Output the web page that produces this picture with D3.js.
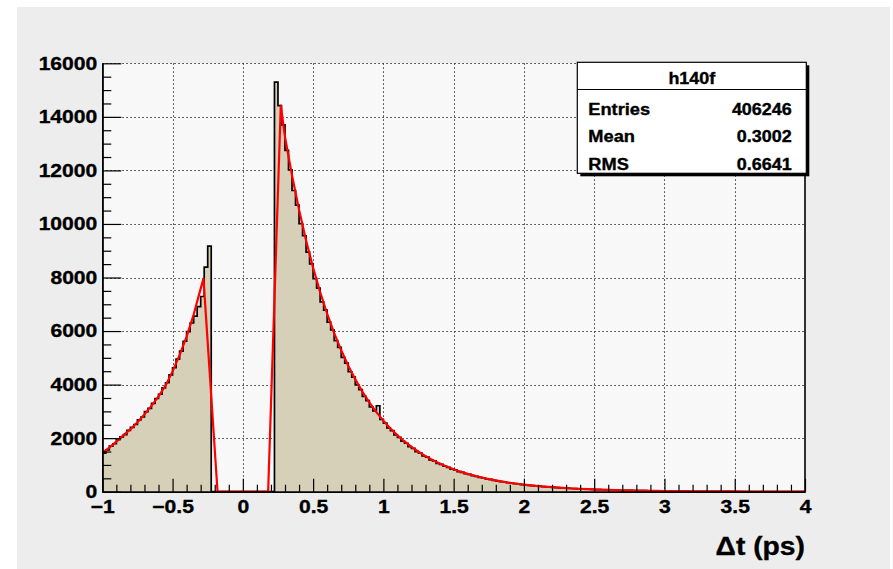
<!DOCTYPE html>
<html>
<head>
<meta charset="utf-8">
<script src="https://cdn.jsdelivr.net/npm/d3@7"></script>
<style>
  html, body { margin: 0; padding: 0; background: #ffffff; }
  svg { display: block; }
  text { font-family: "Liberation Sans", Arial, Helvetica, sans-serif; font-weight: bold; fill: #000; stroke: #000; stroke-width: 0.35px; }
</style>
</head>
<body>
<svg id="chart" width="893" height="569"></svg>
<script>
// Histogram h140f : Δt in ps, 200 bins from -1 to 4
const histName = "h140f";
const xMin = -1, xMax = 4, nBins = 200;

// bin contents, left lobe (-1 .. -0.225)
const countsLeft = [
  1440, 1560, 1700, 1790, 1940, 2050, 2130, 2290, 2400, 2510,
  2680, 2790, 2990, 3110, 3300, 3480, 3640, 3880, 4070, 4360,
  4630, 4950, 5250, 5620, 5980, 6300, 6560, 6910, 7290, 8390,
  9170
];
// empty gap (-0.225 .. 0.225)
const countsGap = [0, 0, 0, 0, 0, 0, 0, 0, 0, 0, 0, 0, 0, 0, 0, 0, 0, 0];
// right lobe (0.225 .. 4)
const countsRight = [
  15300, 14420, 13700, 12750, 12020, 11250, 10700, 10010, 9560, 8950,
  8510, 7960, 7600, 7090, 6780, 6330, 6040, 5640, 5390, 5020,
  4800, 4480, 4280, 3990, 3810, 3560, 3400, 3170, 3020, 3210,
  2700, 2560, 2380, 2280, 2120, 2030, 1890, 1810, 1680, 1620,
  1500, 1440, 1340, 1290, 1190, 1150, 1060, 1020, 950, 910,
  845, 810, 750, 722, 670, 645, 598, 574, 532, 512,
  475, 457, 423, 408, 376, 364, 335, 324, 299, 289,
  266, 258, 237, 230, 211, 205, 188, 183, 168, 163,
  150, 146, 133, 130, 119, 116, 105, 103, 94, 92,
  84, 81, 75, 73, 67, 65, 59, 58, 53, 52,
  47, 46, 42, 41, 37, 37, 33, 33, 29, 29,
  26, 26, 23, 23, 20, 20, 18, 18, 16, 16,
  14, 14, 13, 12, 11, 11, 10, 10, 9, 9,
  8, 8, 7, 7, 6, 6, 6, 5, 5, 5,
  4, 4, 4, 4, 3, 3, 3, 3, 3, 2,
  2
];

// fitted function, sampled points (x, value)
const fitX = [
  -1, -0.95, -0.9, -0.85, -0.8, -0.75, -0.7, -0.65, -0.6, -0.55,
  -0.5, -0.45, -0.4, -0.35, -0.3, -0.28, -0.18, 0.18, 0.27, 0.3,
  0.35, 0.4, 0.45, 0.5, 0.55, 0.6, 0.65, 0.7, 0.75, 0.8,
  0.85, 0.9, 0.95, 1.0, 1.05, 1.1, 1.15, 1.2, 1.25, 1.3,
  1.35, 1.4, 1.45, 1.5, 1.55, 1.6, 1.65, 1.7, 1.75, 1.8,
  1.85, 1.9, 1.95, 2.0, 2.05, 2.1, 2.15, 2.2, 2.25, 2.3,
  2.35, 2.4, 2.45, 2.5, 2.55, 2.6, 2.65, 2.7, 2.75, 2.8,
  2.85, 2.9, 2.95, 3.0, 3.1, 3.2, 3.3, 3.4, 3.5, 3.6,
  3.7, 3.8, 3.9, 4.0
];
const fitY = [
  1450, 1647, 1870, 2103, 2335, 2596, 2886, 3207, 3562, 3962,
  4494, 5102, 5794, 6616, 7584, 7960, 0, 0, 14420, 13248,
  11809, 10527, 9383, 8364, 7455, 6646, 5924, 5281, 4707, 4196,
  3740, 3334, 2972, 2649, 2361, 2105, 1876, 1672, 1491, 1329,
  1185, 1056, 941, 839, 748, 667, 594, 530, 472, 421,
  375, 335, 298, 266, 237, 211, 188, 168, 150, 133,
  119, 106, 94, 84, 75, 67, 60, 53, 47, 42,
  38, 34, 30, 27, 21, 17, 13, 11, 8.5, 6.7,
  5.4, 4.3, 3.4, 2.7
];

// axis ticks
const xTicks = [-1, -0.5, 0, 0.5, 1, 1.5, 2, 2.5, 3, 3.5, 4];
const yTicks = [0, 2000, 4000, 6000, 8000, 10000, 12000, 14000, 16000];

// statistics box
const statLabels = ["Entries", "Mean", "RMS"];
const statValues = ["406246", "0.3002", "0.6641"];
const xTitle = "Δt (ps)";

const counts = countsLeft.concat(countsGap, countsRight);
const binW = (xMax - xMin) / nBins;
const edges = d3.range(nBins + 1).map(i => xMin + i * binW);

const svg = d3.select("#chart");
const frame = { left: 102.3, right: 805, top: 63.3, bottom: 491.7 };

const x = d3.scaleLinear().domain([xMin, xMax]).range([frame.left, frame.right]);
const y = d3.scaleLinear().domain([0, 16000]).range([frame.bottom, frame.top]);

// horizontal text widening helper (keeps text as text)
function widen(sel, k) {
  sel.each(function () {
    const w = this.getComputedTextLength();
    this.setAttribute("textLength", (w * k).toFixed(2));
    this.setAttribute("lengthAdjust", "spacingAndGlyphs");
  });
}

// canvas + pad backgrounds
svg.append("rect").attr("x", 17).attr("y", 7).attr("width", 873).attr("height", 562).attr("fill", "#ededed");
svg.append("rect")
  .attr("x", frame.left).attr("y", frame.top)
  .attr("width", frame.right - frame.left).attr("height", frame.bottom - frame.top)
  .attr("fill", "#f8f8f8");

// dotted grid
const grid = svg.append("g").attr("stroke", "#333").attr("stroke-width", 1).attr("stroke-dasharray", "1.5,2.5");
grid.selectAll("line.gx").data(xTicks.slice(1, -1)).join("line")
  .attr("x1", d => Math.round(x(d)) + 0.5).attr("x2", d => Math.round(x(d)) + 0.5)
  .attr("y1", frame.top).attr("y2", frame.bottom);
grid.selectAll("line.gy").data(yTicks.slice(1)).join("line")
  .attr("x1", frame.left).attr("x2", frame.right)
  .attr("y1", d => Math.round(y(d)) + 0.5).attr("y2", d => Math.round(y(d)) + 0.5);

// histogram
const stepData = edges.map((e, i) => [e, i < nBins ? counts[i] : counts[nBins - 1]]);
const area = d3.area().curve(d3.curveStepAfter)
  .x(d => x(d[0])).y0(y(0)).y1(d => y(d[1]));
svg.append("path").datum(stepData).attr("d", area).attr("fill", "#d6d0b8");
const outline = d3.line().curve(d3.curveStepAfter).x(d => x(d[0])).y(d => y(d[1]));
svg.append("path").datum(stepData).attr("d", outline)
  .attr("fill", "none").attr("stroke", "#000").attr("stroke-width", 1.7)
  .attr("stroke-linejoin", "miter");

// fit curve
const fitPts = fitX.map((v, i) => [v, fitY[i]]);
svg.append("path").datum(fitPts)
  .attr("d", d3.line().x(d => x(d[0])).y(d => y(d[1])))
  .attr("fill", "none").attr("stroke", "#ff0000").attr("stroke-width", 2.2)
  .attr("stroke-linejoin", "round");

// axes (ticks drawn inward, ROOT style)
const gx = svg.append("g").attr("transform", `translate(0,${frame.bottom})`);
gx.call(d3.axisBottom(x).tickValues(d3.range(-1, 4.0001, 0.1)).tickSizeInner(-7).tickSizeOuter(0).tickFormat(""));
gx.call(g => g.selectAll(".tick").filter(d => xTicks.some(t => Math.abs(t - d) < 1e-6)).remove());
const gxMajor = svg.append("g").attr("transform", `translate(0,${frame.bottom})`);
gxMajor.call(d3.axisBottom(x).tickValues(xTicks).tickSizeInner(-13).tickSizeOuter(0).tickPadding(8).tickFormat(d => d3.format("")(d).replace("-", "−")));
[gx, gxMajor].forEach(g => {
  g.select(".domain").attr("stroke", "#000").attr("stroke-width", 1.6);
  g.selectAll(".tick line").attr("stroke", "#000").attr("stroke-width", 1.2);
});
gxMajor.selectAll("text").attr("font-size", 18.5).attr("font-family", null).attr("fill", "#000").style("font-weight", "bold");
widen(gxMajor.selectAll("text"), 1.14);

const gy = svg.append("g").attr("transform", `translate(${frame.left},0)`);
gy.call(d3.axisLeft(y).tickValues(d3.range(0, 16001, 500).filter(v => v % 2000 !== 0)).tickSizeInner(-9).tickSizeOuter(0).tickFormat(""));
const gyMajor = svg.append("g").attr("transform", `translate(${frame.left},0)`);
gyMajor.call(d3.axisLeft(y).tickValues(yTicks).tickSizeInner(-19).tickSizeOuter(0).tickPadding(5).tickFormat(d3.format("d")));
[gy, gyMajor].forEach(g => {
  g.select(".domain").attr("stroke", "#000").attr("stroke-width", 1.6);
  g.selectAll(".tick line").attr("stroke", "#000").attr("stroke-width", 1.2);
});
gyMajor.selectAll("text").attr("font-size", 18.5).attr("font-family", null).attr("fill", "#000").attr("dy", "0.32em").style("font-weight", "bold");
widen(gyMajor.selectAll("text"), 1.14);

// right frame edge
svg.append("line")
  .attr("x1", frame.right).attr("x2", frame.right)
  .attr("y1", frame.top).attr("y2", frame.bottom)
  .attr("stroke", "#000").attr("stroke-width", 1.6);

// axis title
const title = svg.append("text")
  .attr("x", frame.right).attr("y", 555)
  .attr("text-anchor", "end").attr("font-size", 25)
  .text(xTitle);
widen(title, 1.13);

// statistics box
const box = { x: 577.3, y: 62.3, w: 229, h: 111 };
svg.append("rect").attr("x", box.x + 3).attr("y", box.y + 3).attr("width", box.w).attr("height", box.h).attr("fill", "#000");
svg.append("rect").attr("x", box.x).attr("y", box.y).attr("width", box.w).attr("height", box.h)
  .attr("fill", "#ffffff").attr("stroke", "#000").attr("stroke-width", 1.2);
svg.append("line").attr("x1", box.x).attr("x2", box.x + box.w).attr("y1", 89.5).attr("y2", 89.5)
  .attr("stroke", "#000").attr("stroke-width", 1.2);
const hdr = svg.append("text").attr("x", box.x + box.w / 2).attr("y", 83.5)
  .attr("text-anchor", "middle").attr("font-size", 16).text(histName);
widen(hdr, 1.12);
const rowY = [114.5, 142.2, 169.5];
const lab = svg.append("g").selectAll("text").data(statLabels).join("text")
  .attr("x", 588.3).attr("y", (d, i) => rowY[i]).attr("font-size", 16).text(d => d);
widen(lab, 1.14);
const val = svg.append("g").selectAll("text").data(statValues).join("text")
  .attr("x", 791.7).attr("y", (d, i) => rowY[i]).attr("text-anchor", "end").attr("font-size", 16).text(d => d);
widen(val, 1.12);
</script>
</body>
</html>
